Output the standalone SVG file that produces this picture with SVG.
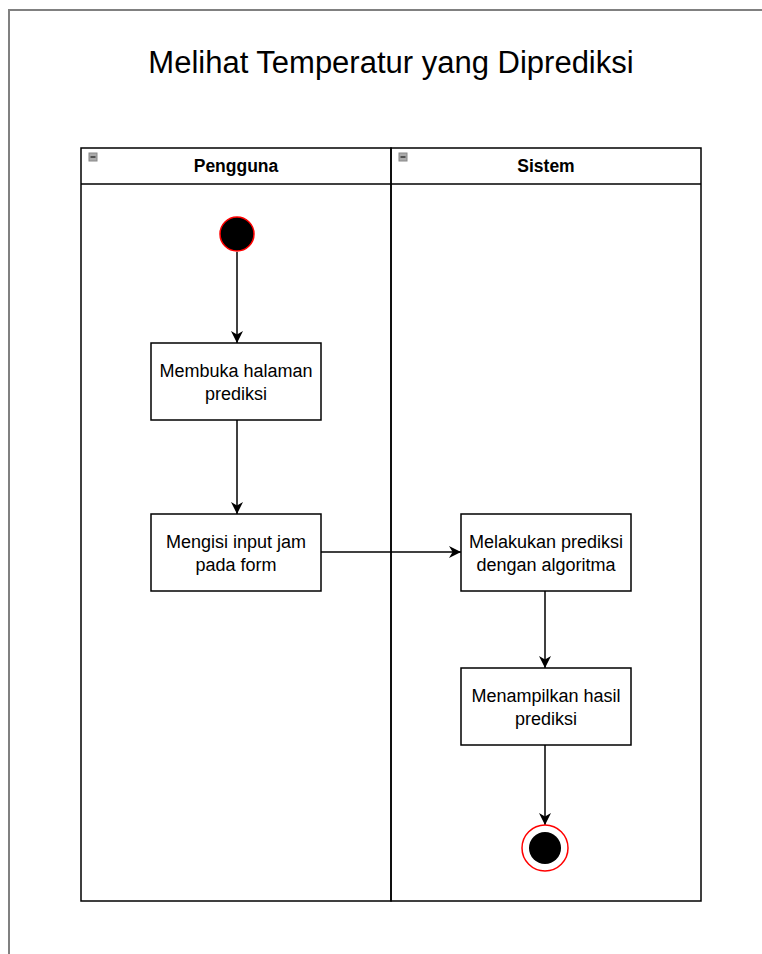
<svg xmlns="http://www.w3.org/2000/svg" width="762" height="954" viewBox="0 0 762 954">
<style>
.frame{fill:none;stroke:#808080;stroke-width:2}
.lane{fill:none;stroke:#000;stroke-width:1.5}
.box{fill:#fff;stroke:#000;stroke-width:1.5}
.t{font-family:"Liberation Sans",Arial,sans-serif;font-size:18px;fill:#000;text-anchor:middle}
.h{font-family:"Liberation Sans",Arial,sans-serif;font-size:17.5px;font-weight:bold;fill:#000;text-anchor:middle}
.edge{fill:none;stroke:#000;stroke-width:1.5;marker-end:url(#arr)}
.icon{fill:#aaa;stroke:#888;stroke-width:1}
.dash{stroke:#333;stroke-width:1.5}
</style>
<defs>
<marker id="arr" viewBox="0 0 10 10" refX="10" refY="5" markerWidth="12" markerHeight="12" markerUnits="userSpaceOnUse" orient="auto">
<path d="M0,0 L10,5 L0,10 L3,5 Z" fill="#000"/>
</marker>
</defs>
<rect width="762" height="954" fill="#fff"/>
<path class="frame" d="M9,960 V10 H770"/>
<text x="391" y="73" font-family="Liberation Sans,Arial,sans-serif" font-size="31" text-anchor="middle" fill="#000">Melihat Temperatur yang Diprediksi</text>
<g id="lane-pengguna">
<rect class="lane" x="81" y="148" width="310" height="753"/>
<line class="lane" x1="81" y1="184" x2="391" y2="184"/>
<rect class="icon" x="89" y="153" width="8" height="8"/>
<line class="dash" x1="90.5" y1="157" x2="95.5" y2="157"/>
<text class="h" x="236" y="172">Pengguna</text>
</g>
<g id="lane-sistem">
<rect class="lane" x="391" y="148" width="310" height="753"/>
<line class="lane" x1="391" y1="184" x2="701" y2="184"/>
<rect class="icon" x="399" y="153" width="8" height="8"/>
<line class="dash" x1="400.5" y1="157" x2="405.5" y2="157"/>
<text class="h" x="546" y="172">Sistem</text>
</g>
<g id="connectors">
<line class="edge" x1="237" y1="252" x2="237" y2="343"/>
<line class="edge" x1="237" y1="420" x2="237" y2="514"/>
<line class="edge" x1="321" y1="552" x2="461" y2="552"/>
<line class="edge" x1="545" y1="591" x2="545" y2="668"/>
<line class="edge" x1="545" y1="745" x2="545" y2="825"/>
</g>
<g id="start">
<circle cx="237" cy="234" r="17" fill="#000" stroke="#ff0000" stroke-width="1.5"/>
</g>
<g id="membuka">
<rect class="box" x="151" y="343" width="170" height="77"/>
<text class="t" x="236" y="377">Membuka halaman</text>
<text class="t" x="236" y="400">prediksi</text>
</g>
<g id="mengisi">
<rect class="box" x="151" y="514" width="170" height="77"/>
<text class="t" x="236" y="548">Mengisi input jam</text>
<text class="t" x="236" y="571">pada form</text>
</g>
<g id="melakukan">
<rect class="box" x="461" y="514" width="170" height="77"/>
<text class="t" x="546" y="548">Melakukan prediksi</text>
<text class="t" x="546" y="571">dengan algoritma</text>
</g>
<g id="menampilkan">
<rect class="box" x="461" y="668" width="170" height="77"/>
<text class="t" x="546" y="702">Menampilkan hasil</text>
<text class="t" x="546" y="725">prediksi</text>
</g>
<g id="end">
<circle cx="545" cy="848" r="23" fill="#fff" stroke="#ff0000" stroke-width="1.5"/>
<circle cx="545" cy="848" r="16" fill="#000"/>
</g>
</svg>
